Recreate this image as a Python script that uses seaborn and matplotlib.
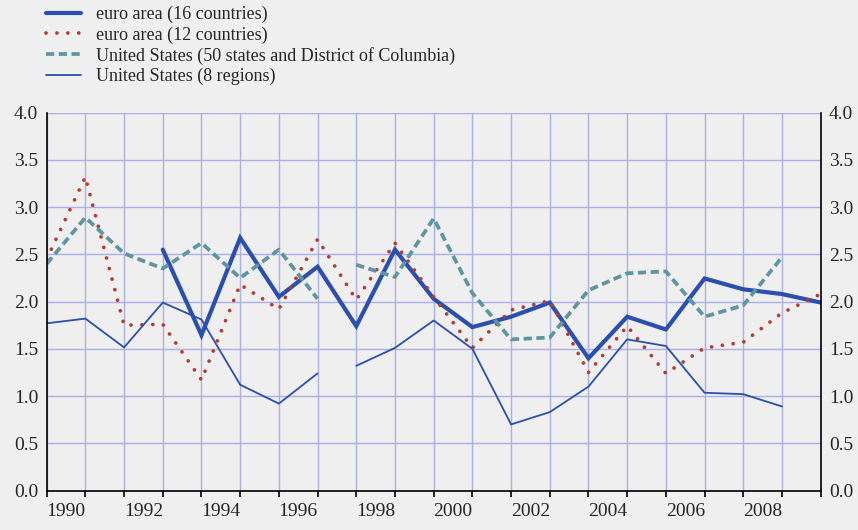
import pandas as pd
import matplotlib.pyplot as plt
import seaborn as sns

# datos
years = list(range(1990, 2011))

euro16_years = list(range(1993, 2011))
euro16 = [2.55, 1.645, 2.675, 2.05, 2.37, 1.74, 2.55, 2.03, 1.73, 1.84,
          1.99, 1.40, 1.84, 1.705, 2.245, 2.13, 2.08, 1.99]

euro12 = [2.45, 3.32, 1.75, 1.76, 1.17, 2.18, 1.92, 2.66, 2.02, 2.62,
          2.05, 1.51, 1.91, 2.01, 1.25, 1.74, 1.24, 1.51, 1.57, 1.88, 2.08]

# Estados Unidos: dos tramos (hay un hueco entre 1997 y 1998)
us50_years_a = list(range(1990, 1998))
us50_a = [2.40, 2.89, 2.51, 2.35, 2.62, 2.25, 2.55, 2.03]
us50_years_b = list(range(1998, 2010))
us50_b = [2.39, 2.26, 2.88, 2.09, 1.60, 1.62, 2.12, 2.30, 2.32, 1.84, 1.96, 2.47]

us8_years_a = list(range(1990, 1998))
us8_a = [1.77, 1.82, 1.515, 1.99, 1.81, 1.12, 0.92, 1.24]
us8_years_b = list(range(1998, 2010))
us8_b = [1.32, 1.51, 1.80, 1.50, 0.70, 0.83, 1.10, 1.60, 1.53, 1.035, 1.02, 0.89]

etiquetas = ["euro area (16 countries)", "euro area (12 countries)",
             "United States (50 states and District of Columbia)",
             "United States (8 regions)"]

AZUL = "#2b4fb0"
ROJO = "#b73a30"
TEAL = "#5d95a1"
GRID = "#aab0e6"
FONDO = "#efefef"

sns.set_style("ticks")
plt.rcParams["font.family"] = ["Liberation Serif", "DejaVu Serif"]
plt.rcParams["font.size"] = 13

fig = plt.figure(figsize=(8.58, 5.30), dpi=100, facecolor=FONDO)
ax = fig.add_axes([0.0544, 0.0745, 0.9021, 0.7129])
ax.set_facecolor(FONDO)

estilo16 = dict(color=AZUL, linewidth=3.0, solid_joinstyle="miter")
estilo12 = dict(color=ROJO, linewidth=2.7, dashes=(0.01, 2.9), dash_capstyle="round")
estilo50 = dict(color=TEAL, linewidth=2.7, dashes=(2.2, 1.2), dash_capstyle="butt")
estilo8 = dict(color=AZUL, linewidth=1.3)

sns.lineplot(x=euro16_years, y=euro16, ax=ax, label=etiquetas[0], **estilo16)
sns.lineplot(x=years, y=euro12, ax=ax, label=etiquetas[1], **estilo12)
sns.lineplot(x=us50_years_a, y=us50_a, ax=ax, label=etiquetas[2], **estilo50)
sns.lineplot(x=us50_years_b, y=us50_b, ax=ax, **estilo50)
sns.lineplot(x=us8_years_a, y=us8_a, ax=ax, label=etiquetas[3], **estilo8)
sns.lineplot(x=us8_years_b, y=us8_b, ax=ax, **estilo8)

ax.set_xlim(1990, 2010)
ax.set_ylim(0, 4)

# ticks mayores en cada año (sin texto), etiquetas en el centro de años pares
ax.set_xticks(years)
ax.set_xticklabels([])
ax.set_xticks([y + 0.5 for y in range(1990, 2010, 2)], minor=True)
ax.set_xticklabels([str(y) for y in range(1990, 2010, 2)], minor=True)
ax.tick_params(axis="x", which="major", length=4, width=1.2, direction="out", color="black")
ax.tick_params(axis="x", which="minor", length=0, pad=9, labelsize=14)

yt = [i * 0.5 for i in range(9)]
ax.set_yticks(yt)
ax.set_yticklabels([f"{v:.1f}" for v in yt])
ax.tick_params(axis="y", which="major", length=0, pad=6, labelsize=14,
               left=True, right=True, labelleft=True, labelright=True)

ax.grid(True, which="major", color=GRID, linewidth=1.0)
ax.set_axisbelow(True)

for lado in ["left", "right", "bottom"]:
    ax.spines[lado].set_visible(True)
    ax.spines[lado].set_color("black")
    ax.spines[lado].set_linewidth(1.2)
ax.spines["top"].set_visible(False)
ax.set_xlabel("")
ax.set_ylabel("")

handles, labels = ax.get_legend_handles_labels()
ax.get_legend().remove()
fig.legend(handles, labels, loc="upper left", bbox_to_anchor=(0.045, 1.002),
           frameon=False, fontsize=13, handlelength=1.95, handletextpad=0.82,
           labelspacing=0.17, borderaxespad=0)

plt.savefig("out.png", dpi=100, facecolor=FONDO)
